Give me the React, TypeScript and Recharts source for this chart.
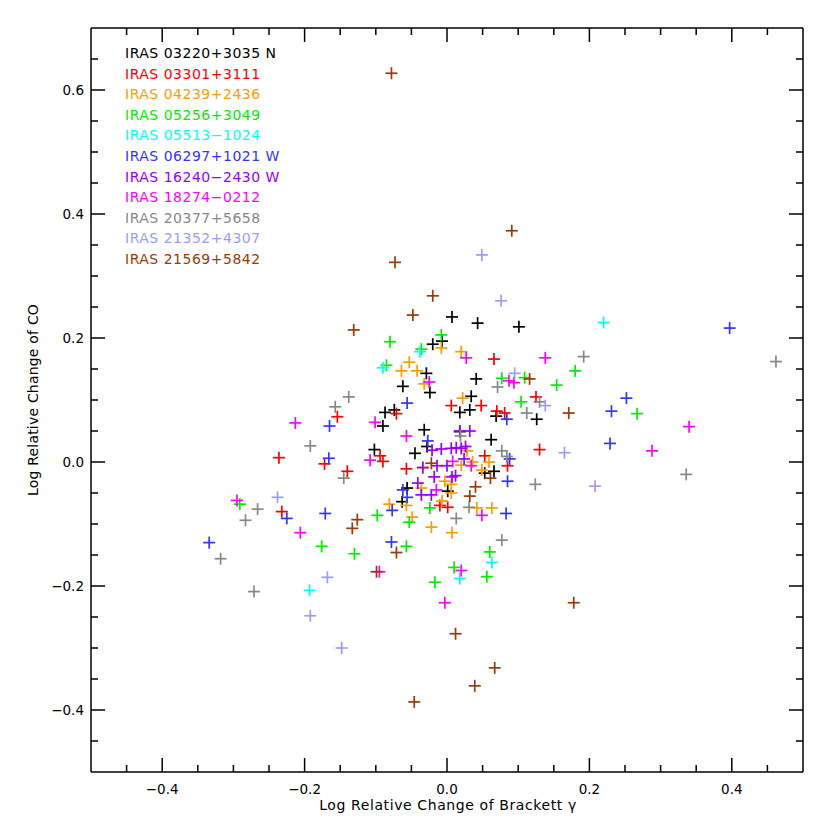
import React from 'react';
import { ScatterChart, Scatter, XAxis, YAxis } from 'recharts';

type P = [number, number];

const FONT = '"DejaVu Sans", Verdana, sans-serif';

// ---- data (x = log relative change of Br gamma, y = log relative change of CO)
const iras03220: P[] = [
  [0.007, 0.234], [-0.02, 0.19], [-0.007, 0.195], [-0.029, 0.143], [-0.062, 0.122], [-0.024, 0.112],
  [-0.087, 0.08], [-0.074, 0.084], [-0.09, 0.058], [-0.032, 0.052], [-0.102, 0.02], [-0.045, 0.014],
  [-0.028, 0.025], [0.043, 0.224], [0.101, 0.218], [0.041, 0.134], [0.034, 0.106], [0.018, 0.08],
  [0.032, 0.084], [0.069, 0.074], [0.126, 0.069], [0.062, 0.036], [0.018, 0.049], [0.053, -0.018],
  [0.066, -0.015], [0.001, -0.047], [-0.056, -0.042], [-0.063, -0.064],
];
const iras03301: P[] = [
  [-0.236, 0.007], [-0.154, 0.073], [-0.172, -0.003], [-0.14, -0.015], [-0.232, -0.08], [-0.071, 0.078],
  [0.006, 0.091], [-0.094, 0.01], [-0.09, 0.001], [-0.057, -0.011], [0.066, 0.166], [0.048, 0.091],
  [0.07, 0.082], [0.081, 0.079], [0.125, 0.105], [0.13, 0.02], [0.053, 0.01], [0.085, -0.006],
  [0.001, -0.073], [-0.01, -0.07],
];
const iras04239: P[] = [
  [-0.008, 0.184], [-0.053, 0.161], [-0.064, 0.147], [-0.042, 0.147], [-0.032, 0.126], [0.02, 0.178],
  [0.022, 0.103], [-0.081, -0.068], [-0.057, -0.07], [-0.049, -0.089], [-0.022, -0.105], [0.007, -0.114],
  [-0.003, -0.031], [0.006, -0.05], [-0.034, -0.009], [-0.007, -0.063], [0.028, 0.018], [0.036, 0.0],
  [0.059, 0.0], [0.049, -0.013], [0.02, -0.005], [0.042, -0.074], [0.063, -0.074], [0.006, -0.036],
  [-0.036, -0.042],
];
const iras05256: P[] = [
  [-0.008, 0.205], [-0.08, 0.194], [-0.036, 0.182], [-0.085, 0.156], [0.077, 0.135], [0.109, 0.136],
  [0.154, 0.124], [0.18, 0.147], [0.104, 0.097], [0.267, 0.078], [-0.291, -0.068], [-0.176, -0.136],
  [-0.098, -0.086], [-0.024, -0.074], [-0.053, -0.097], [-0.13, -0.148], [-0.057, -0.136], [0.01, -0.17],
  [-0.017, -0.194], [0.06, -0.145], [0.056, -0.185],
];
const iras05513: P[] = [
  [-0.038, 0.178], [-0.09, 0.152], [0.22, 0.225], [-0.193, -0.207], [0.063, -0.162], [0.018, -0.188],
];
const iras06297: P[] = [
  [0.397, 0.216], [0.252, 0.103], [0.231, 0.082], [0.229, 0.03], [0.084, 0.069], [-0.056, 0.095],
  [-0.165, 0.058], [-0.027, 0.034], [-0.166, 0.006], [-0.171, -0.083], [-0.225, -0.091], [-0.334, -0.13],
  [-0.062, -0.045], [-0.056, -0.057], [-0.077, -0.078], [-0.078, -0.129], [0.088, 0.005], [0.085, -0.031],
  [0.083, -0.083],
];
const iras16240: P[] = [
  [-0.021, 0.019], [-0.008, 0.021], [0.006, 0.022], [0.013, 0.023], [0.02, 0.022], [0.026, 0.025],
  [0.018, 0.05], [0.032, 0.05], [0.024, 0.005], [-0.034, -0.009], [-0.014, -0.006], [0.0, -0.006],
  [-0.018, -0.024], [0.012, -0.022], [0.007, -0.024], [-0.041, -0.034], [-0.036, -0.053], [-0.022, -0.053],
];
const iras18274: P[] = [
  [-0.213, 0.063], [-0.295, -0.062], [-0.206, -0.114], [-0.025, 0.129], [-0.101, 0.064], [-0.057, 0.042],
  [-0.108, 0.003], [0.027, 0.168], [0.138, 0.168], [0.087, 0.131], [0.094, 0.128], [0.34, 0.057],
  [0.288, 0.018], [0.008, 0.001], [0.034, -0.006], [-0.015, -0.045], [0.049, -0.086], [-0.095, -0.177],
  [0.02, -0.175], [-0.003, -0.227],
];
const iras20377: P[] = [
  [0.192, 0.17], [0.462, 0.162], [0.336, -0.02], [0.071, 0.121], [0.13, 0.097], [0.112, 0.079],
  [0.077, 0.018], [0.019, 0.042], [-0.138, 0.105], [-0.157, 0.089], [-0.192, 0.026], [-0.145, -0.026],
  [-0.266, -0.076], [-0.283, -0.094], [-0.318, -0.156], [-0.271, -0.209], [0.013, -0.091], [0.084, 0.009],
  [0.124, -0.036], [0.031, -0.073], [0.077, -0.126],
];
const iras21352: P[] = [
  [0.049, 0.334], [0.076, 0.26], [0.095, 0.143], [0.138, 0.091], [0.165, 0.015], [0.208, -0.039],
  [-0.238, -0.057], [-0.168, -0.186], [-0.192, -0.248], [-0.148, -0.3],
];
const iras21569: P[] = [
  [-0.078, 0.627], [0.091, 0.373], [-0.073, 0.322], [-0.02, 0.268], [-0.048, 0.237], [-0.131, 0.213],
  [0.171, 0.079], [0.116, 0.134], [-0.022, -0.002], [-0.126, -0.093], [-0.133, -0.107], [-0.071, -0.146],
  [-0.099, -0.177], [0.061, -0.026], [0.04, -0.04], [0.032, -0.055], [0.178, -0.227], [0.012, -0.277],
  [0.067, -0.332], [0.039, -0.361], [-0.046, -0.387],
];

const seriesNames = [
  'IRAS 03220+3035 N', 'IRAS 03301+3111', 'IRAS 04239+2436', 'IRAS 05256+3049', 'IRAS 05513\u22121024',
  'IRAS 06297+1021 W', 'IRAS 16240\u22122430 W', 'IRAS 18274\u22120212', 'IRAS 20377+5658',
  'IRAS 21352+4307', 'IRAS 21569+5842',
];
const seriesColors = [
  '#000000', '#ff0000', '#ff9c00', '#00ee00', '#00ffff', '#3535ff', '#9a00ff', '#ff00ff', '#888888',
  '#9c9cff', '#9c3a0a',
];
const seriesData: P[][] = [
  iras03220, iras03301, iras04239, iras05256, iras05513, iras06297, iras16240, iras18274, iras20377,
  iras21352, iras21569,
];

const xMajorTicks = [-0.4, -0.2, 0, 0.2, 0.4];
const xAllTicks = [-0.45, -0.4, -0.35, -0.3, -0.25, -0.2, -0.15, -0.1, -0.05, 0, 0.05, 0.1, 0.15, 0.2, 0.25, 0.3, 0.35, 0.4, 0.45];
const yMajorTicks = [-0.4, -0.2, 0, 0.2, 0.4, 0.6];
const yAllTicks = [-0.45, -0.4, -0.35, -0.3, -0.25, -0.2, -0.15, -0.1, -0.05, 0, 0.05, 0.1, 0.15, 0.2, 0.25, 0.3, 0.35, 0.4, 0.45, 0.5, 0.55, 0.6, 0.65];

const isMajor = (v: number, majors: number[]) => majors.some((m) => Math.abs(m - v) < 1e-6);
const fmt = (v: number) => (v < -1e-9 ? '\u2212' + Math.abs(v).toFixed(1) : Math.abs(v).toFixed(1));

const MAJOR = 14;
const MINOR = 7;
const TW = 1.5;

const BottomTick = (p: any) => {
  const { x, y, payload } = p;
  const major = isMajor(payload.value, xMajorTicks);
  return (
    <g>
      <line x1={x} x2={x} y1={y} y2={y - (major ? MAJOR : MINOR)} stroke="#000" strokeWidth={TW} />
      {major && (
        <text x={x} y={y + 17} textAnchor="middle" dominantBaseline="central" fontSize={13.5} fontFamily={FONT} fill="#000">
          {fmt(payload.value)}
        </text>
      )}
    </g>
  );
};
const TopTick = (p: any) => {
  const { x, y, payload } = p;
  const major = isMajor(payload.value, xMajorTicks);
  return <line x1={x} x2={x} y1={y} y2={y + (major ? MAJOR : MINOR)} stroke="#000" strokeWidth={TW} />;
};
const LeftTick = (p: any) => {
  const { x, y, payload } = p;
  const major = isMajor(payload.value, yMajorTicks);
  return (
    <g>
      <line x1={x} x2={x + (major ? MAJOR : MINOR)} y1={y} y2={y} stroke="#000" strokeWidth={TW} />
      {major && (
        <text x={x - 7} y={y} textAnchor="end" dominantBaseline="central" fontSize={13.5} fontFamily={FONT} fill="#000">
          {fmt(payload.value)}
        </text>
      )}
    </g>
  );
};
const RightTick = (p: any) => {
  const { x, y, payload } = p;
  const major = isMajor(payload.value, yMajorTicks);
  return <line x1={x} x2={x - (major ? MAJOR : MINOR)} y1={y} y2={y} stroke="#000" strokeWidth={TW} />;
};

const makePlus = (color: string) => (p: any) => {
  const { cx, cy } = p;
  if (cx == null || cy == null) return <g />;
  const a = 6;
  return (
    <g>
      <line x1={cx - a} x2={cx + a} y1={cy} y2={cy} stroke={color} strokeWidth={1.7} />
      <line x1={cx} x2={cx} y1={cy - a} y2={cy + a} stroke={color} strokeWidth={1.7} />
    </g>
  );
};

const axisLine = { stroke: '#000', strokeWidth: 1.5 };

export default function App() {
  return (
    <div style={{ position: 'relative', width: 814, height: 814, fontFamily: FONT }}>
      <ScatterChart width={814} height={814} margin={{ top: 0, right: 0, bottom: 0, left: 21 }}>
        <XAxis
          xAxisId="b" type="number" dataKey="x" orientation="bottom" domain={[-0.5, 0.5]} allowDataOverflow
          ticks={xAllTicks} interval={0} tickSize={0} tickMargin={0} tickLine={false} axisLine={axisLine}
          tick={(p: any) => <BottomTick {...p} />} height={50}
        />
        <XAxis
          xAxisId="t" type="number" dataKey="x" orientation="top" domain={[-0.5, 0.5]} allowDataOverflow
          ticks={xAllTicks} interval={0} tickSize={0} tickMargin={0} tickLine={false} axisLine={axisLine}
          tick={(p: any) => <TopTick {...p} />} height={20}
        />
        <YAxis
          yAxisId="l" type="number" dataKey="y" orientation="left" domain={[-0.5, 0.7]} allowDataOverflow
          ticks={yAllTicks} interval={0} tickSize={0} tickMargin={0} tickLine={false} axisLine={axisLine}
          tick={(p: any) => <LeftTick {...p} />} width={62}
        />
        <YAxis
          yAxisId="r" type="number" dataKey="y" orientation="right" domain={[-0.5, 0.7]} allowDataOverflow
          ticks={yAllTicks} interval={0} tickSize={0} tickMargin={0} tickLine={false} axisLine={axisLine}
          tick={(p: any) => <RightTick {...p} />} width={19}
        />
        {seriesData.map((d, i) => (
          <Scatter
            key={seriesNames[i]}
            name={seriesNames[i]}
            xAxisId="b"
            yAxisId="l"
            data={d.map(([x, y]) => ({ x, y }))}
            fill={seriesColors[i]}
            shape={makePlus(seriesColors[i])}
            isAnimationActive={false}
          />
        ))}
      </ScatterChart>
      <div
        style={{
          position: 'absolute', left: 117, top: 35, fontSize: 14, letterSpacing: '0.5px', lineHeight: '20.6px',
          whiteSpace: 'pre',
        }}
      >
        {seriesNames.map((n, i) => (
          <div key={n} style={{ color: seriesColors[i] }}>{n}</div>
        ))}
      </div>
      <div
        style={{
          position: 'absolute', left: 440, top: 797, transform: 'translate(-50%, -50%)', fontSize: 14,
          letterSpacing: '0.6px', whiteSpace: 'nowrap',
        }}
      >
        Log Relative Change of Brackett γ
      </div>
      <div
        style={{
          position: 'absolute', left: 25, top: 392, transform: 'translate(-50%, -50%) rotate(-90deg)',
          fontSize: 14, letterSpacing: '0.2px', whiteSpace: 'nowrap',
        }}
      >
        Log Relative Change of CO
      </div>
    </div>
  );
}
